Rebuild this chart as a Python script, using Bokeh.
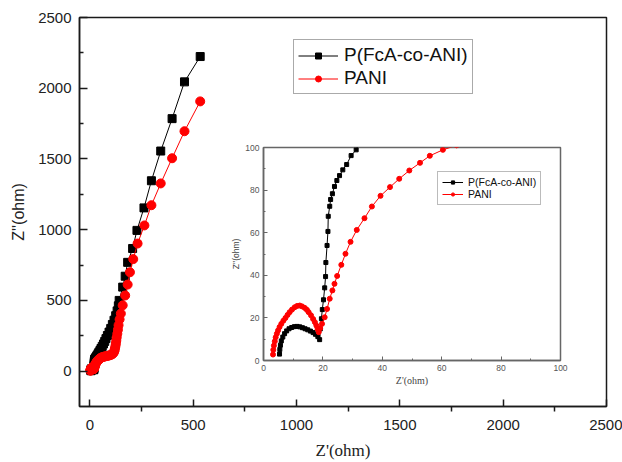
from bokeh.plotting import figure
from bokeh.models import Range1d, FixedTicker, Legend, LegendItem, GridBox, Spacer
from bokeh.embed import file_html
from bokeh.resources import INLINE

# ---------------- data ----------------
series_names = ["P(FcA-co-ANI)", "PANI"]

fca_x = [5.4, 5.5, 5.7, 6.0, 6.5, 7.1, 7.8, 8.6, 9.5, 10.4, 11.3, 12.2, 13.1, 14.0, 14.9,
         15.8, 16.7, 17.5, 18.3, 18.9, 19.1, 19.5, 19.8, 20.2, 20.6, 20.9, 21.0, 21.4, 21.7,
         21.8, 22.3, 22.6, 23.2, 23.9, 24.7, 25.6, 26.7, 28.0, 29.5, 31.2,
         33, 36, 40, 44, 49, 54, 60, 66, 72, 78, 85, 93, 101, 109, 117, 125, 132, 138,
         142, 159, 171, 183, 207, 228, 262, 298, 343, 398, 458, 534]
fca_y = [3.0, 5.2, 7.2, 9.2, 11.0, 12.6, 13.9, 14.9, 15.5, 15.9, 16.0, 15.8, 15.4, 14.9, 14.4,
         13.8, 13.1, 12.3, 11.2, 9.8, 14.8, 19.6, 23.9, 28.5, 34.1, 39.4, 46.0, 54.0, 60.6,
         67.7, 72.4, 75.6, 78.3, 81.7, 84.5, 86.8, 89.5, 92.0, 96.2, 98.9,
         105, 113, 123, 134, 146, 160, 175, 192, 210, 230, 252, 276, 302, 330, 360, 392, 426, 462,
         500, 594, 671, 769, 867, 995, 1154, 1346, 1556, 1785, 2045, 2224]

pani_x = [3.2, 3.3, 3.5, 3.8, 4.1, 4.5, 4.9, 5.4, 6.0, 6.7, 7.4, 8.1, 8.8, 9.6, 10.5, 11.3,
          12.2, 13.0, 13.9, 14.6, 15.2, 16.0, 16.7, 17.3, 17.8, 18.2, 18.6, 19.1, 19.7, 20.6,
          21.4, 22.3, 23.2, 23.9, 24.8, 26.2, 27.6, 29.3, 31.4, 34.0, 36.5, 39.4, 42.6, 45.7,
          49.1, 52.7, 56.0, 60.4,
          65, 70, 76, 82, 88, 94, 100, 106, 111, 115, 118, 120, 122, 124, 126, 128, 130, 133,
          136, 139, 144, 150, 159, 171, 183, 194, 210, 231, 264, 298, 343, 398, 458, 534]
pani_y = [2.8, 5.0, 7.0, 9.0, 10.9, 12.6, 14.1, 15.7, 17.2, 18.7, 20.0, 21.4, 22.7, 23.9, 25.0, 25.6,
          25.8, 25.4, 24.7, 23.8, 22.7, 21.2, 19.5, 18.0, 16.4, 14.8, 13.3, 15.2, 17.2, 20.3,
          24.2, 29.0, 32.9, 36.0, 39.7, 44.9, 50.1, 55.7, 61.3, 66.8, 72.3, 77.3, 81.4, 85.3,
          89.2, 92.8, 96.1, 98.9,
          101, 103, 105, 107, 109, 111, 114, 118, 123, 130, 139, 150, 163, 178, 195, 215, 238, 264,
          293, 325, 366, 407, 465, 535, 612, 699, 792, 902, 1030, 1173, 1327, 1505, 1696, 1907]

main_ticks = [0, 500, 1000, 1500, 2000, 2500]
main_minor = [250, 750, 1250, 1750, 2250]
inset_ticks = [0, 20, 40, 60, 80, 100]
inset_minor = [10, 30, 50, 70, 90]

SANS = "Liberation Sans"
SERIF = "Liberation Serif"

# ---------------- main plot ----------------
p = figure(width=622, height=462, x_range=Range1d(-50, 2500), y_range=Range1d(-250, 2500),
           output_backend="svg", toolbar_location=None, title=None,
           min_border_left=79, min_border_right=16, min_border_top=17, min_border_bottom=54)
p.grid.visible = False
p.background_fill_color = "white"
p.border_fill_color = "white"
p.outline_line_color = "#1a1a1a"
p.outline_line_width = 1.5

for ax in (p.xaxis, p.yaxis):
    ax.axis_line_color = "#1a1a1a"
    ax.axis_line_width = 1.5
    ax.major_tick_line_color = "#1a1a1a"
    ax.minor_tick_line_color = "#1a1a1a"
    ax.major_tick_line_width = 1.5
    ax.minor_tick_line_width = 1.5
    ax.major_label_text_font = SANS
    ax.major_label_text_font_size = "15px"
    ax.major_label_text_color = "#222222"
    ax.axis_label_text_font_style = "normal"
    ax.axis_label_text_color = "#222222"

p.xaxis.ticker = FixedTicker(ticks=main_ticks, minor_ticks=main_minor)
p.yaxis.ticker = FixedTicker(ticks=main_ticks, minor_ticks=main_minor)
p.xaxis.major_tick_in = 7
p.xaxis.major_tick_out = 0
p.xaxis.minor_tick_in = 0
p.xaxis.minor_tick_out = 5
p.yaxis.major_tick_in = 8
p.yaxis.major_tick_out = 0
p.yaxis.minor_tick_in = 4
p.yaxis.minor_tick_out = 0
p.xaxis.major_label_standoff = 8
p.yaxis.major_label_standoff = 8
p.xaxis.axis_label = "Z'(ohm)"
p.xaxis.axis_label_text_font = SERIF
p.xaxis.axis_label_text_font_size = "17px"
p.xaxis.axis_label_standoff = 8
p.yaxis.axis_label = "Z''(ohm)"
p.yaxis.axis_label_text_font = SANS
p.yaxis.axis_label_text_font_size = "16px"
p.yaxis.axis_label_standoff = 8

l1 = p.line(fca_x, fca_y, line_color="black", line_width=1)
s1 = p.scatter(fca_x, fca_y, marker="square", size=8, fill_color="black", line_color="black")
l2 = p.line(pani_x, pani_y, line_color="red", line_width=1)
s2 = p.scatter(pani_x, pani_y, marker="circle", size=9, fill_color="red", line_color="red")

leg = Legend(items=[LegendItem(label=series_names[0], renderers=[l1, s1]),
                    LegendItem(label=series_names[1], renderers=[l2, s2])],
             location=(214, 312))
leg.label_text_font = SANS
leg.label_text_font_size = "19px"
leg.label_text_color = "#111111"
leg.label_height = 22
leg.glyph_height = 15
leg.glyph_width = 40
leg.label_standoff = 6
leg.spacing = 1
leg.padding = 4
leg.margin = 0
leg.border_line_color = "#555555"
leg.border_line_width = 1.5
leg.background_fill_color = "white"
leg.background_fill_alpha = 1
p.add_layout(leg)

# ---------------- inset ----------------
p2 = figure(width=342, height=250, x_range=Range1d(0, 100), y_range=Range1d(0, 100),
            output_backend="svg", toolbar_location=None, title=None,
            min_border_left=34, min_border_right=10, min_border_top=7, min_border_bottom=30)
p2.grid.visible = False
p2.background_fill_alpha = 0
p2.border_fill_alpha = 0
p2.outline_line_color = "#666666"
p2.outline_line_width = 1.5

for ax in (p2.xaxis, p2.yaxis):
    ax.axis_line_color = "#666666"
    ax.axis_line_width = 1.5
    ax.major_tick_line_color = "#666666"
    ax.minor_tick_line_color = "#666666"
    ax.major_tick_in = 4
    ax.major_tick_out = 0
    ax.minor_tick_in = 2
    ax.minor_tick_out = 0
    ax.major_label_text_font = SANS
    ax.major_label_text_font_size = "8.5px"
    ax.major_label_text_color = "#555555"
    ax.major_label_standoff = 4
    ax.axis_label_text_font_style = "normal"
    ax.axis_label_text_color = "#444444"
    ax.axis_label_standoff = 1

p2.xaxis.ticker = FixedTicker(ticks=inset_ticks, minor_ticks=inset_minor)
p2.yaxis.ticker = FixedTicker(ticks=inset_ticks, minor_ticks=inset_minor)
p2.xaxis.axis_label = "Z'(ohm)"
p2.xaxis.axis_label_text_font = SERIF
p2.xaxis.axis_label_text_font_size = "10px"
p2.yaxis.axis_label = "Z''(ohm)"
p2.yaxis.axis_label_text_font = SANS
p2.yaxis.axis_label_text_font_size = "8.5px"

i1 = p2.line(fca_x, fca_y, line_color="black", line_width=1)
j1 = p2.scatter(fca_x, fca_y, marker="square", size=4, fill_color="black", line_color="black")
i2 = p2.line(pani_x, pani_y, line_color="red", line_width=1)
j2 = p2.scatter(pani_x, pani_y, marker="circle", size=5, fill_color="red", line_color="red")

leg2 = Legend(items=[LegendItem(label=series_names[0], renderers=[i1, j1]),
                     LegendItem(label=series_names[1], renderers=[i2, j2])],
              location=(174, 155))
leg2.label_text_font = SANS
leg2.label_text_font_size = "10.5px"
leg2.label_text_color = "#111111"
leg2.label_height = 12
leg2.glyph_height = 8
leg2.glyph_width = 21
leg2.label_standoff = 5
leg2.spacing = 0
leg2.padding = 4
leg2.margin = 0
leg2.border_line_color = "#777777"
leg2.border_line_width = 1
leg2.background_fill_color = "white"
p2.add_layout(leg2)

# inset placed by a 3x3 grid: top-left spacer sets its offset, bottom-right spacer fills the rest
spacer_a = Spacer(width=228, height=140)
spacer_b = Spacer(width=622 - 228 - 342, height=462 - 140 - 250)
layout = GridBox(children=[(p, 0, 0, 3, 3), (spacer_a, 0, 0), (p2, 1, 1), (spacer_b, 2, 2)])

open("out.html", "w").write(file_html(layout, INLINE))
